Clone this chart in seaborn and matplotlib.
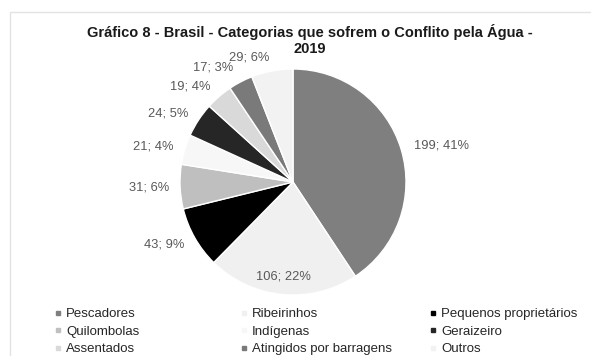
import numpy as np
import matplotlib
matplotlib.use("Agg")
import matplotlib.pyplot as plt
import seaborn as sns
from matplotlib.lines import Line2D
from matplotlib.patches import Rectangle

# ---- data ----
categories = ["Pescadores", "Ribeirinhos", "Pequenos proprietários", "Quilombolas",
              "Indígenas", "Geraizeiro", "Assentados", "Atingidos por barragens", "Outros"]
values = [199, 106, 43, 31, 21, 24, 19, 17, 29]
percent_labels = ["41%", "22%", "9%", "6%", "4%", "5%", "4%", "3%", "6%"]
title_lines = ["Gráfico 8 - Brasil - Categorias que sofrem o Conflito pela Água -", "2019"]

# ---- style ----
colors = ["#7f7f7f", "#f0f0f0", "#000000", "#bfbfbf", "#f7f7f7",
          "#262626", "#d9d9d9", "#7a7a7a", "#f2f2f2"]
label_dist = [1.12, 0.84, 1.11, 1.10, 1.10, 1.11, 1.12, 1.14, 1.12]

sns.set_theme(style="white")
plt.rcParams["font.family"] = ["Liberation Sans", "DejaVu Sans"]

W, H = 591, 356
fig = plt.figure(figsize=(W / 100, H / 100), dpi=100)
fig.patch.set_facecolor("white")

# chart border (top and left visible)
fig.add_artist(Rectangle((10 / W, -0.2), 1.2, (H - 12) / H + 0.2, transform=fig.transFigure,
                         fill=False, edgecolor="#e3e3e3", lw=1.0))

cx, cy, R = 293, H - 182, 113
half = 130
ax = fig.add_axes([(cx - half) / W, (cy - half) / H, 2 * half / W, 2 * half / H])
wedges, _ = ax.pie(values, colors=colors, startangle=90, counterclock=False,
                   radius=1.0, wedgeprops=dict(edgecolor="white", linewidth=1.0))
lim = half / R
ax.set_xlim(-lim, lim)
ax.set_ylim(-lim, lim)
ax.set_aspect("equal")
ax.axis("off")

for w, v, p, d in zip(wedges, values, percent_labels, label_dist):
    ang = np.deg2rad((w.theta1 + w.theta2) / 2)
    x, y = d * np.cos(ang), d * np.sin(ang)
    if d < 1:
        ha = "center"
    else:
        ha = "left" if x > 0 else "right"
    ax.text(x, y, f"{v}; {p}", ha=ha, va="center", fontsize=9.3, color="#595959")

for line, base in zip(title_lines, [37, 53]):
    fig.text(310 / W, 1 - base / H, line, ha="center", va="baseline", fontsize=10.5,
             fontweight="bold", color="#1a1a1a")

# legend: three columns, row-wise order
col_x = [55, 241, 430]
for c in range(3):
    idx = [c, c + 3, c + 6]
    handles = [Line2D([], [], marker="s", markersize=3.5, linestyle="none",
                      markerfacecolor=colors[i], markeredgecolor=colors[i]) for i in idx]
    fig.legend(handles, [categories[i] for i in idx], loc="upper left",
               bbox_to_anchor=(col_x[c] / W, 1 - 308 / H), frameon=False,
               fontsize=9.5, handlelength=0.5, handletextpad=0.35,
               labelspacing=0.4, borderpad=0, borderaxespad=0,
               labelcolor="#262626")

fig.savefig("out.png", dpi=100, facecolor="white")
